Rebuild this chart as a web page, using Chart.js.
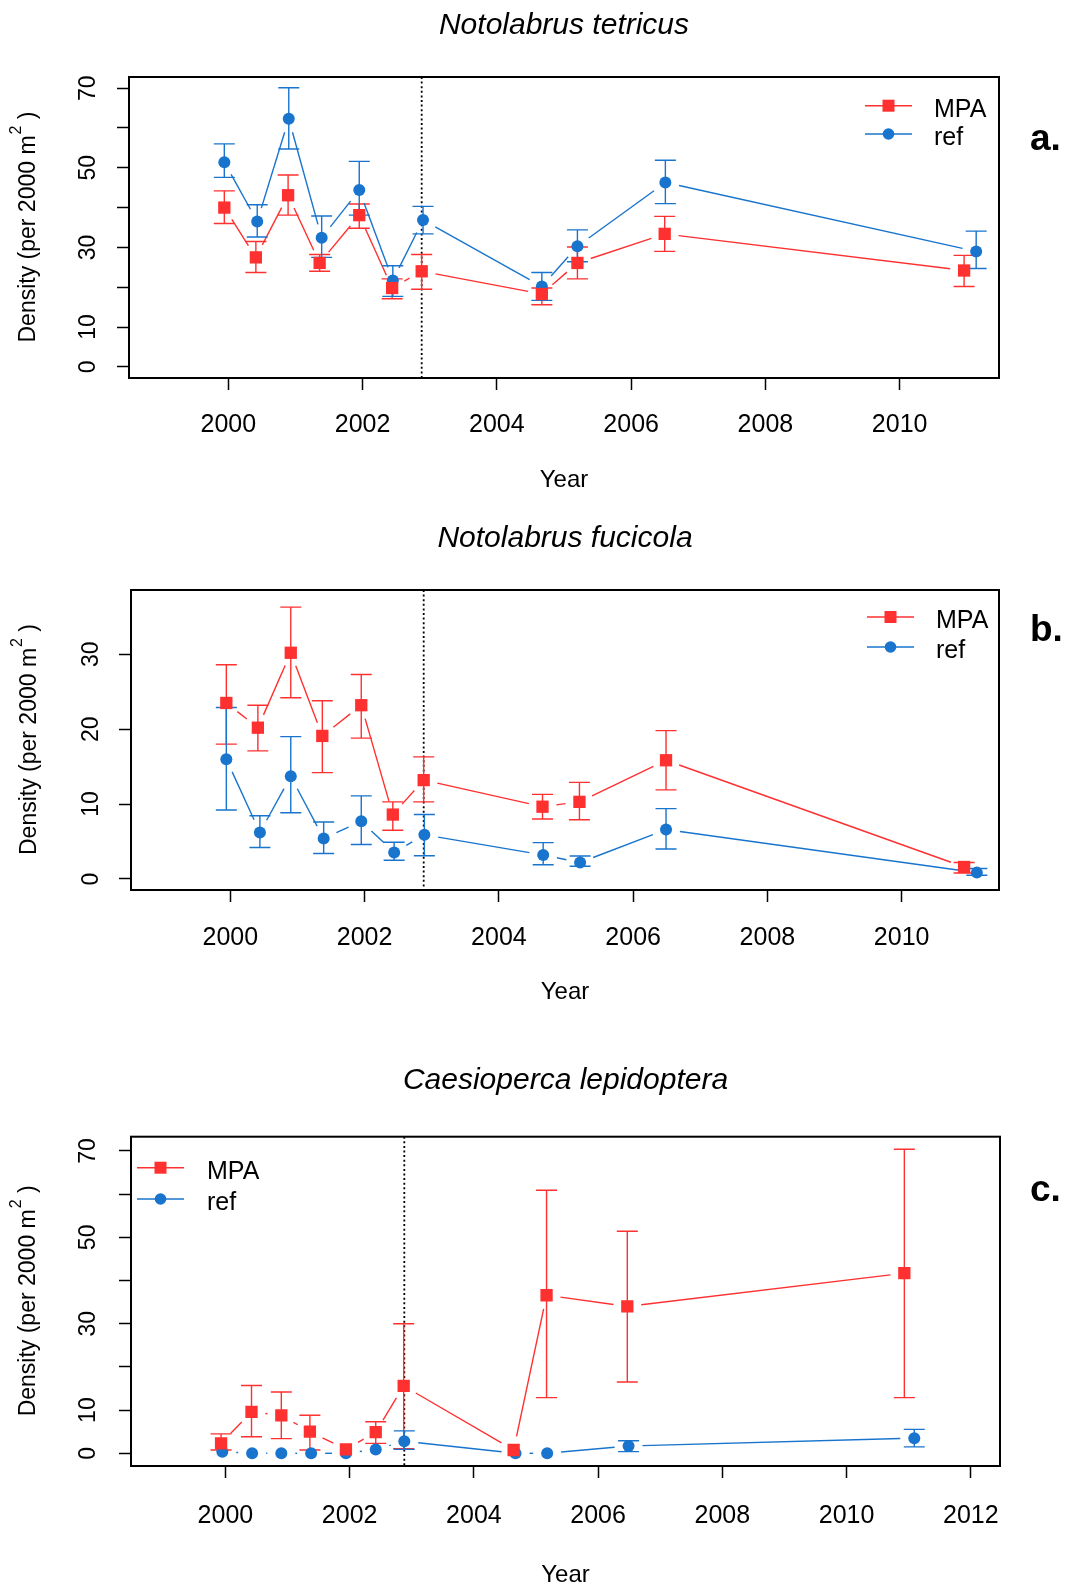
<!DOCTYPE html>
<html><head><meta charset="utf-8">
<script src="https://cdn.jsdelivr.net/npm/chart.js@4/dist/chart.umd.min.js"></script>
<style>
html,body{margin:0;padding:0;background:#fff;}
#wrap{position:relative;width:1068px;height:1586px;overflow:hidden;}
canvas{position:absolute;left:0;}
</style></head><body>
<div id="wrap">
<canvas id="cA" width="1068" height="505" style="top:0px;width:1068px;height:505px"></canvas>
<canvas id="cB" width="1068" height="535" style="top:505px;width:1068px;height:535px"></canvas>
<canvas id="cC" width="1068" height="546" style="top:1040px;width:1068px;height:546px"></canvas>
</div>
<script>
// ---------- DATA ----------
const seriesNames = ['MPA', 'ref'];
const titles = ['Notolabrus tetricus', 'Notolabrus fucicola', 'Caesioperca lepidoptera'];
const panelLetters = ['a.', 'b.', 'c.'];
const xTickLabelsAB = [2000, 2002, 2004, 2006, 2008, 2010];
const xTickLabelsC = [2000, 2002, 2004, 2006, 2008, 2010, 2012];
const yTicksA = [0, 10, 20, 30, 40, 50, 60, 70];
const yTickLabelsA = [0, 10, 30, 50, 70];
const yTicksB = [0, 10, 20, 30];
const yTickLabelsB = [0, 10, 20, 30];
const yTicksC = [0, 10, 20, 30, 40, 50, 60, 70];
const yTickLabelsC = [0, 10, 30, 50, 70];
const mpaStartYear = 2002.88;

// Panel a: Notolabrus tetricus
const yearsA_mpa = [1999.94, 2000.41, 2000.89, 2001.36, 2001.95, 2002.44, 2002.88, 2004.67, 2005.20, 2006.50, 2010.96];
const meanA_mpa  = [40.0, 27.5, 43.1, 26.1, 38.1, 19.8, 24.0, 18.3, 26.1, 33.4, 24.2];
const loA_mpa    = [36.0, 23.7, 38.1, 24.0, 34.8, 17.1, 19.5, 15.6, 22.1, 29.0, 20.2];
const hiA_mpa    = [44.2, 31.5, 48.2, 28.2, 40.9, 22.1, 28.2, 19.8, 30.1, 37.8, 28.0];
const yearsA_ref = [1999.94, 2000.43, 2000.90, 2001.39, 2001.95, 2002.45, 2002.90, 2004.67, 2005.20, 2006.51, 2011.14];
const meanA_ref  = [51.4, 36.5, 62.3, 32.4, 44.4, 21.7, 36.9, 20.2, 30.3, 46.3, 29.0];
const loA_ref    = [47.6, 32.6, 54.7, 27.5, 38.1, 17.7, 33.4, 16.7, 26.4, 41.0, 24.7];
const hiA_ref    = [56.0, 40.7, 70.1, 37.9, 51.6, 25.4, 40.3, 23.7, 34.4, 51.9, 34.1];

// Panel b: Notolabrus fucicola
const yearsB_mpa = [1999.94, 2000.41, 2000.90, 2001.37, 2001.95, 2002.42, 2002.88, 2004.65, 2005.20, 2006.49, 2010.93];
const meanB_mpa  = [23.5, 20.2, 30.2, 19.1, 23.2, 8.6, 13.2, 9.65, 10.3, 15.85, 1.6];
const loB_mpa    = [18.0, 17.1, 24.2, 14.2, 18.8, 6.5, 10.3, 8.0, 7.9, 11.9, 0.8];
const hiB_mpa    = [28.6, 23.2, 36.3, 23.8, 27.3, 10.3, 16.3, 11.3, 12.9, 19.8, 2.2];
const yearsB_ref = [1999.94, 2000.44, 2000.90, 2001.39, 2001.95, 2002.44, 2002.89, 2004.66, 2005.21, 2006.49, 2011.12];
const meanB_ref  = [16.0, 6.2, 13.7, 5.4, 7.7, 3.55, 5.9, 3.2, 2.2, 6.6, 0.85];
const loB_ref    = [9.2, 4.2, 8.85, 3.4, 4.6, 2.5, 3.1, 1.9, 1.7, 4.0, 0.5];
const hiB_ref    = [22.9, 8.45, 19.0, 7.6, 11.1, 4.9, 8.6, 4.85, 3.07, 9.4, 1.4];

// Panel c: Caesioperca lepidoptera
const yearsC_mpa = [1999.93, 2000.42, 2000.90, 2001.36, 2001.94, 2002.42, 2002.87, 2004.64, 2005.17, 2006.47, 2010.93];
const meanC_mpa  = [2.3, 9.6, 8.8, 5.0, 0.9, 4.9, 15.6, 0.76, 36.6, 34.0, 41.7];
const loC_mpa    = [0.76, 3.85, 3.4, 0.76, 0.9, 2.3, 1.07, 0.76, 12.9, 16.5, 12.9];
const hiC_mpa    = [4.5, 15.7, 14.2, 8.8, 0.9, 7.3, 30.0, 0.76, 60.9, 51.4, 70.4];
const yearsC_ref = [1999.95, 2000.43, 2000.90, 2001.38, 2001.94, 2002.42, 2002.88, 2004.67, 2005.18, 2006.49, 2011.09];
const meanC_ref  = [0.38, 0, 0, 0, 0, 0.9, 2.8, 0, 0, 1.7, 3.5];
const loC_ref    = [0.38, 0, 0, 0, 0, 0.9, 0.9, 0, 0, 0.4, 1.5];
const hiC_ref    = [0.38, 0, 0, 0, 0, 0.9, 5.2, 0, 0, 2.9, 5.55];

// ---------- STYLE ----------
const RED = '#FF3030', BLUE = '#1874CD';
const FONT = "'Liberation Sans', Arial, Helvetica, sans-serif";
const TICKFONT_X = 25, TICKFONT_Y = 23, TITLE_FONT = 24;
const GAP = 14, CAP = 10.5;

function textWidth(str, font) {
  const c = document.createElement('canvas').getContext('2d');
  c.font = font; return c.measureText(str).width;
}

const rdeco = {
  id: 'rdeco',
  beforeDatasetsDraw(chart, args, o) {
    const {ctx, chartArea: a, scales: {x, y}} = chart;
    ctx.save();
    const vx = x.getPixelForValue(o.vline);
    ctx.strokeStyle = '#000'; ctx.lineWidth = 1.8; ctx.setLineDash([2, 2.6]);
    ctx.beginPath(); ctx.moveTo(vx, a.top); ctx.lineTo(vx, a.bottom); ctx.stroke();
    ctx.setLineDash([]);
    chart.data.datasets.forEach((ds, di) => {
      const pts = chart.getDatasetMeta(di).data;
      ctx.strokeStyle = ds.borderColor; ctx.lineWidth = 1.4;
      ds.data.forEach((d, i) => {
        const lo = ds.errLo[i], hi = ds.errHi[i];
        if (hi - lo < 0.05) return;
        const px = pts[i].x, y1 = y.getPixelForValue(lo), y2 = y.getPixelForValue(hi);
        ctx.beginPath();
        ctx.moveTo(px, y1); ctx.lineTo(px, y2);
        ctx.moveTo(px - CAP, y1); ctx.lineTo(px + CAP, y1);
        ctx.moveTo(px - CAP, y2); ctx.lineTo(px + CAP, y2);
        ctx.stroke();
      });
      for (let i = 0; i < pts.length - 1; i++) {
        const p0 = pts[i], p1 = pts[i + 1];
        const dx = p1.x - p0.x, dy = p1.y - p0.y, L = Math.hypot(dx, dy);
        if (L <= 2 * GAP) continue;
        const ux = dx / L, uy = dy / L;
        ctx.beginPath();
        ctx.moveTo(p0.x + ux * GAP, p0.y + uy * GAP);
        ctx.lineTo(p1.x - ux * GAP, p1.y - uy * GAP);
        ctx.stroke();
      }
    });
    ctx.restore();
  },
  afterDraw(chart, args, o) {
    const {ctx, chartArea: a} = chart;
    ctx.save();
    ctx.strokeStyle = '#000'; ctx.lineWidth = 2;
    ctx.strokeRect(a.left, a.top, a.right - a.left, a.bottom - a.top);
    ctx.fillStyle = '#000';
    ctx.font = `italic 30px ${FONT}`;
    ctx.textAlign = 'center'; ctx.textBaseline = 'middle';
    ctx.fillText(o.title, (a.left + a.right) / 2, o.titleY);
    // y label with superscript
    ctx.save();
    ctx.translate(o.ylabX, (a.top + a.bottom) / 2);
    ctx.rotate(-Math.PI / 2);
    const f1 = `23px ${FONT}`, f2 = `16px ${FONT}`;
    const s1 = 'Density (per 2000 m', s2 = '2', s3 = ' )';
    const w1 = textWidth(s1, f1), w2 = textWidth(s2, f2), w3 = textWidth(s3, f1);
    let sx = -(w1 + w2 + w3) / 2;
    ctx.textAlign = 'left'; ctx.textBaseline = 'middle';
    ctx.font = f1; ctx.fillText(s1, sx, 0); sx += w1;
    ctx.font = f2; ctx.fillText(s2, sx + 1, -12); sx += w2 + 1;
    ctx.font = f1; ctx.fillText(s3, sx, 0);
    ctx.restore();
    // legend
    chart.data.datasets.forEach((ds, i) => {
      const ly = o.legY[i];
      ctx.strokeStyle = ds.borderColor; ctx.lineWidth = 1.6;
      ctx.beginPath(); ctx.moveTo(o.legX0, ly); ctx.lineTo(o.legX1, ly); ctx.stroke();
      const mx = (o.legX0 + o.legX1) / 2;
      ctx.fillStyle = ds.backgroundColor;
      if (ds.pointStyle === 'rect') ctx.fillRect(mx - 6, ly - 6, 12, 12);
      else { ctx.beginPath(); ctx.arc(mx, ly, 5.8, 0, Math.PI * 2); ctx.fill(); }
      ctx.fillStyle = '#000'; ctx.font = `25px ${FONT}`;
      ctx.textAlign = 'left'; ctx.textBaseline = 'middle';
      ctx.fillText(ds.label, o.legTextX, ly + 4);
    });
    ctx.font = `bold 37px ${FONT}`; ctx.textAlign = 'left'; ctx.textBaseline = 'alphabetic';
    ctx.fillStyle = '#000';
    ctx.fillText(o.letter, 1030, o.letterY);
    ctx.restore();
  }
};

function build(id, p) {
  const canvas = document.getElementById(id);
  const H = canvas.height;
  const wY = textWidth(String(Math.max(...p.yLabels)), `${TICKFONT_Y}px ${FONT}`);
  const yPad = (p.plotLeft - p.yTickX) - 12 - wY / 2;
  const mk = (xs, ys) => xs.map((x, i) => ({x: x, y: ys[i]}));
  return new Chart(canvas, {
    type: 'scatter',
    data: {
      datasets: [
        { label: seriesNames[0], data: mk(p.mpa[0], p.mpa[1]), errLo: p.mpa[2], errHi: p.mpa[3],
          backgroundColor: RED, borderColor: RED, pointStyle: 'rect', pointRadius: 8.7,
          pointBorderWidth: 0, pointHoverRadius: 8.7, showLine: false },
        { label: seriesNames[1], data: mk(p.ref[0], p.ref[1]), errLo: p.ref[2], errHi: p.ref[3],
          backgroundColor: BLUE, borderColor: BLUE, pointStyle: 'circle', pointRadius: 6,
          pointBorderWidth: 0, pointHoverRadius: 6, showLine: false }
      ]
    },
    options: {
      responsive: false, animation: false, devicePixelRatio: 1,
      events: [],
      layout: { padding: { top: p.plotTop, right: 1068 - p.plotRight, bottom: 0, left: 0 } },
      plugins: {
        legend: { display: false }, tooltip: { enabled: false }, title: { display: false },
        rdeco: p.deco
      },
      scales: {
        x: {
          type: 'linear', min: p.xMin, max: p.xMax,
          afterFit: s => { s.height = H - p.plotBottom; },
          afterBuildTicks: s => { s.ticks = p.xTicks.map(v => ({value: v})); },
          ticks: { autoSkip: false, minRotation: 0, maxRotation: 0, padding: p.xTickPad, color: '#000',
                   font: { family: FONT, size: TICKFONT_X }, callback: v => String(v) },
          grid: { display: true, drawOnChartArea: false, drawTicks: true, tickLength: 12,
                  tickWidth: 1.5, tickColor: '#000', color: '#000' },
          border: { display: true, color: '#000', width: 2 },
          title: { display: true, text: 'Year', color: '#000',
                   font: { family: FONT, size: TITLE_FONT, lineHeight: 1 },
                   padding: { top: 0, bottom: p.yearPad } }
        },
        y: {
          type: 'linear', min: p.yMin, max: p.yMax,
          afterFit: s => { s.width = p.plotLeft; },
          afterBuildTicks: s => { s.ticks = p.yTicks.map(v => ({value: v})); },
          ticks: { autoSkip: false, minRotation: 90, maxRotation: 90, crossAlign: 'center',
                   padding: yPad, color: '#000', font: { family: FONT, size: TICKFONT_Y },
                   callback: v => p.yLabels.includes(v) ? String(v) : '' },
          grid: { display: true, drawOnChartArea: false, drawTicks: true, tickLength: 12,
                  tickWidth: 1.5, tickColor: '#000', color: '#000' },
          border: { display: true, color: '#000', width: 2 }
        }
      }
    },
    plugins: [rdeco]
  });
}

build('cA', {
  plotLeft: 129, plotRight: 999, plotTop: 77, plotBottom: 378,
  xMin: 1998.52, xMax: 2011.48, yMin: -2.8, yMax: 72.8,
  xTicks: xTickLabelsAB, yTicks: yTicksA, yLabels: yTickLabelsA,
  xTickPad: 20.6, yearPad: 13, yTickX: 89,
  mpa: [yearsA_mpa, meanA_mpa, loA_mpa, hiA_mpa],
  ref: [yearsA_ref, meanA_ref, loA_ref, hiA_ref],
  deco: { vline: mpaStartYear, title: titles[0], titleY: 26, ylabX: 29,
          legX0: 865, legX1: 912, legY: [105.7, 134], legTextX: 934,
          letter: panelLetters[0], letterY: 150 }
});

build('cB', {
  plotLeft: 131, plotRight: 999, plotTop: 85, plotBottom: 385,
  xMin: 1998.52, xMax: 2011.45, yMin: -1.47, yMax: 38.58,
  xTicks: xTickLabelsAB, yTicks: yTicksB, yLabels: yTickLabelsB,
  xTickPad: 21, yearPad: 36, yTickX: 92,
  mpa: [yearsB_mpa, meanB_mpa, loB_mpa, hiB_mpa],
  ref: [yearsB_ref, meanB_ref, loB_ref, hiB_ref],
  deco: { vline: mpaStartYear, title: titles[1], titleY: 34, ylabX: 30,
          legX0: 867, legX1: 914, legY: [112, 142], legTextX: 936,
          letter: panelLetters[1], letterY: 136 }
});

build('cC', {
  plotLeft: 131, plotRight: 1000, plotTop: 96.7, plotBottom: 426,
  xMin: 1998.48, xMax: 2012.47, yMin: -2.94, yMax: 73.31,
  xTicks: xTickLabelsC, yTicks: yTicksC, yLabels: yTickLabelsC,
  xTickPad: 23, yearPad: -1, yTickX: 89,
  mpa: [yearsC_mpa, meanC_mpa, loC_mpa, hiC_mpa],
  ref: [yearsC_ref, meanC_ref, loC_ref, hiC_ref],
  deco: { vline: mpaStartYear, title: titles[2], titleY: 41, ylabX: 29,
          legX0: 137, legX1: 184, legY: [127.7, 159], legTextX: 207,
          letter: panelLetters[2], letterY: 161 }
});
</script>
</body></html>
